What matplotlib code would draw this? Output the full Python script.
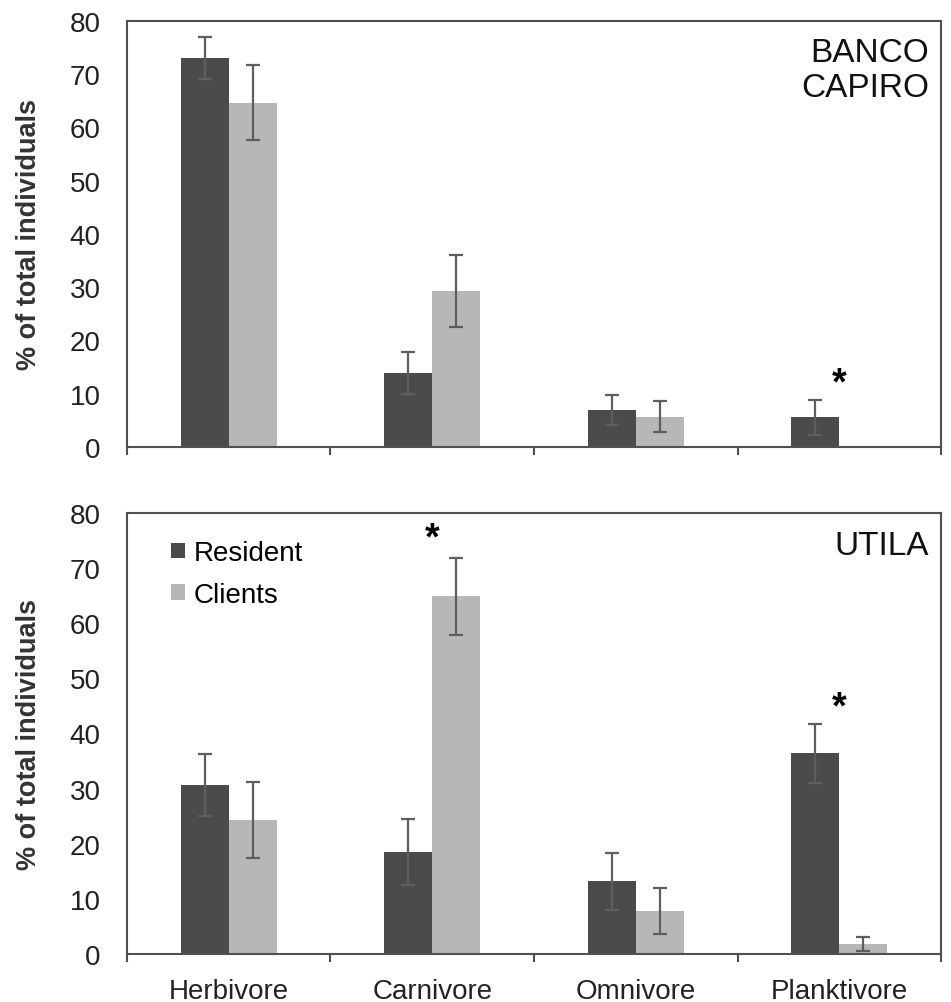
import numpy as np
import matplotlib as mpl
mpl.use('Agg')
import matplotlib.pyplot as plt

plt.rcParams['font.family'] = ['Liberation Sans', 'DejaVu Sans']

categories = ['Herbivore', 'Carnivore', 'Omnivore', 'Planktivore']
series = ['Resident', 'Clients']

## BANCO CAPIRO
banco_resident = [73.0, 13.9, 6.9, 5.6]
banco_resident_err = [3.9, 3.9, 2.8, 3.3]
banco_clients = [64.6, 29.3, 5.7, 0.0]
banco_clients_err = [7.0, 6.7, 2.85, 0.0]
banco_stars = [3]

## UTILA
utila_resident = [30.6, 18.5, 13.2, 36.4]
utila_resident_err = [5.6, 5.9, 5.2, 5.3]
utila_clients = [24.3, 64.9, 7.75, 1.8]
utila_clients_err = [6.9, 7.0, 4.2, 1.3]
utila_stars = [1, 3]

colors = ['#4b4b4b', '#b7b7b7']
err_color = '#5e5e5e'
spine_color = '#505050'

fig = plt.figure(figsize=(9.51, 10.03), dpi=100)
ax_top = fig.add_axes([0.1335, 0.5533, 0.856, 0.4251])
ax_bot = fig.add_axes([0.1335, 0.0479, 0.856, 0.4396])

x = np.arange(len(categories))
w = 0.236


def draw_panel(ax, res, res_err, cli, cli_err, stars, star_offsets, label, show_xlabels, legend):
    ax.bar(x - w / 2, res, w, color=colors[0], label=series[0], zorder=2)
    ax.bar(x + w / 2, cli, w, color=colors[1], label=series[1], zorder=2)
    for xs, ys, es in [(x - w / 2, res, res_err), (x + w / 2, cli, cli_err)]:
        for xi, yi, ei in zip(xs, ys, es):
            if yi == 0:
                continue
            ax.errorbar(xi, yi, yerr=ei, fmt='none', ecolor=err_color,
                        elinewidth=1.6, capsize=5, capthick=1.6, zorder=3)
    for s, yoff in zip(stars, star_offsets):
        ax.text(x[s], yoff, '*', ha='center', va='center', fontsize=27, fontweight='bold')

    ax.set_xlim(-0.5, 3.5)
    ax.set_ylim(0, 80)
    ax.set_yticks(np.arange(0, 81, 10))
    ax.tick_params(axis='y', length=0, labelsize=20, pad=19, labelcolor='#222222')
    ax.set_xticks(np.arange(-0.5, 3.6, 1.0))
    ax.set_xticklabels([])
    ax.tick_params(axis='x', which='major', length=6, width=1.5, color=spine_color, direction='out')
    ax.set_xticks(x, minor=True)
    if show_xlabels:
        ax.set_xticklabels(categories, minor=True)
    ax.tick_params(axis='x', which='minor', length=0, labelsize=20, pad=17, labelcolor='#222222')
    for sp in ax.spines.values():
        sp.set_color(spine_color)
        sp.set_linewidth(1.5)
    ax.set_ylabel('% of total individuals', fontsize=19.5, fontweight='bold', color='#333333')
    ax.yaxis.set_label_coords(-0.104, 0.5)
    ax.text(0.985, 0.962, label, transform=ax.transAxes, ha='right', va='top',
            fontsize=24, linespacing=1.17, color='#111111')
    if legend:
        ax.legend(loc='upper left', bbox_to_anchor=(0.01, 1.02), frameon=False, fontsize=20,
                  handlelength=0.5, handleheight=0.5, handletextpad=0.3, labelspacing=0.55,
                  borderaxespad=0.9)


draw_panel(ax_top, banco_resident, banco_resident_err, banco_clients, banco_clients_err,
           banco_stars, [12.0], 'BANCO\nCAPIRO', False, False)
draw_panel(ax_bot, utila_resident, utila_resident_err, utila_clients, utila_clients_err,
           utila_stars, [75.3, 44.8], 'UTILA', True, True)

fig.savefig('out.png', dpi=100)
